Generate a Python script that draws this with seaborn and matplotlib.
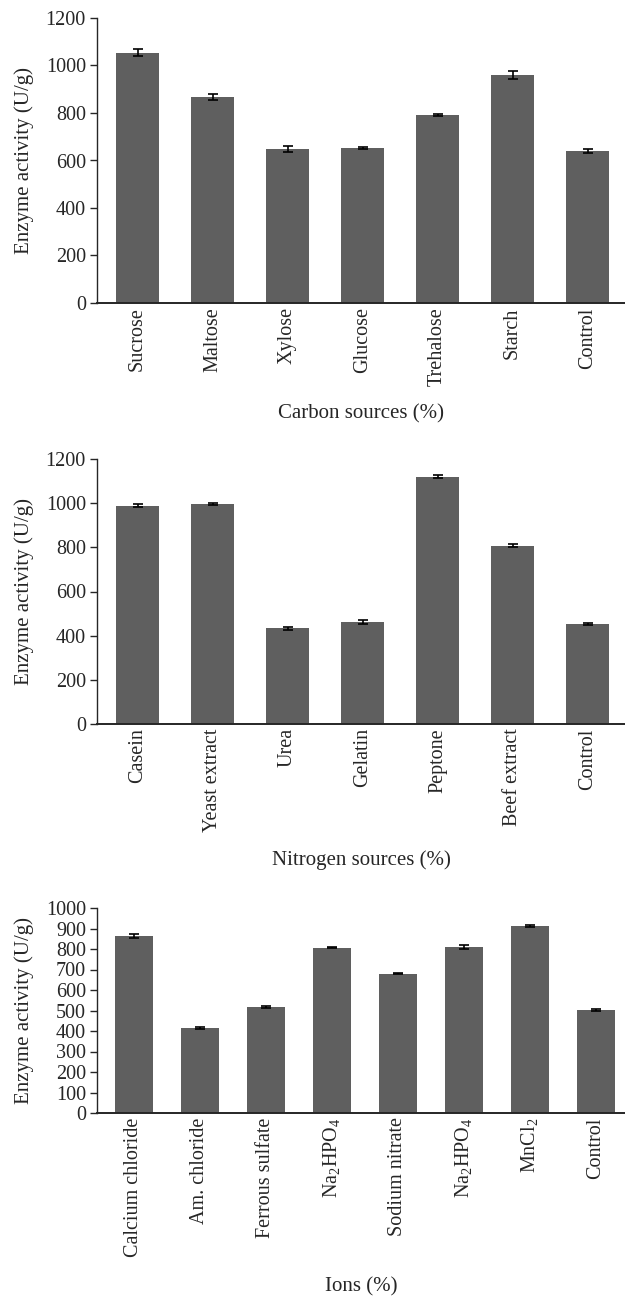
import numpy as np
import pandas as pd
import matplotlib
matplotlib.use('Agg')
import matplotlib.pyplot as plt
import seaborn as sns

# carbon sources
carbon_names = ['Sucrose', 'Maltose', 'Xylose', 'Glucose', 'Trehalose', 'Starch', 'Control']
carbon_vals = [1053, 868, 648, 653, 791, 959, 641]
carbon_err = [15, 12, 11, 5, 5, 17, 8]

# nitrogen sources
nitro_names = ['Casein', 'Yeast extract', 'Urea', 'Gelatin', 'Peptone', 'Beef extract', 'Control']
nitro_vals = [988, 997, 434, 462, 1120, 807, 453]
nitro_err = [7, 4, 7, 7, 7, 7, 4]

# ions
ion_names = ['Calcium chloride', 'Am. chloride', 'Ferrous sulfate', r'Na$_2$HPO$_4$',
             'Sodium nitrate', r'Na$_2$HPO$_4$ ', r'MnCl$_2$', 'Control']
ion_vals = [865, 416, 519, 807, 680, 811, 912, 504]
ion_err = [9, 4, 5, 4, 4, 9, 4, 4]

sns.set_style('ticks')
plt.rcParams['font.family'] = ['Liberation Serif', 'DejaVu Serif']
plt.rcParams['mathtext.fontset'] = 'custom'
plt.rcParams['mathtext.rm'] = 'Liberation Serif'
plt.rcParams['mathtext.it'] = 'Liberation Serif:italic'
plt.rcParams['font.size'] = 15

W, H = 625, 1299
fig = plt.figure(figsize=(W / 100, H / 100), dpi=100)

bar_color = '#5f5f5f'
ax_left = 97 / W
ax_w = (625 - 97) / W


def panel(top_px, bot_px, names, vals, errs, ymax, step, xlab, xlab_y, xlim):
    ax = fig.add_axes([ax_left, 1 - bot_px / H, ax_w, (bot_px - top_px) / H])
    df = pd.DataFrame({'cat': names, 'val': vals})
    sns.barplot(data=df, x='cat', y='val', color=bar_color, width=0.58,
                saturation=1, edgecolor='none', ax=ax)
    ax.errorbar(np.arange(len(vals)), vals, yerr=errs, fmt='none',
                ecolor='black', elinewidth=1.2, capsize=3.5, capthick=1.2)
    ax.set_ylim(0, ymax)
    ax.set_yticks(np.arange(0, ymax + 1, step))
    ax.set_xlim(*xlim)
    ax.set_xlabel('')
    ax.set_ylabel('')
    for s in ['top', 'right']:
        ax.spines[s].set_visible(False)
    ax.spines['left'].set_linewidth(1.0)
    ax.spines['bottom'].set_linewidth(1.4)
    ax.tick_params(axis='y', length=5, width=1, pad=3, labelsize=14.5, direction='out')
    ax.tick_params(axis='x', length=0, pad=3, labelsize=14.5)
    plt.setp(ax.get_xticklabels(), rotation=90, va='top', ha='center')
    fig.text(ax_left + ax_w / 2, 1 - xlab_y / H, xlab, ha='center', va='center', fontsize=15)
    fig.text(24 / W, 1 - (top_px + bot_px) / 2 / H, 'Enzyme activity (U/g)',
             rotation=90, ha='center', va='center', fontsize=15)
    return ax


panel(18, 303, carbon_names, carbon_vals, carbon_err, 1200, 200,
      'Carbon sources (%)', 414, (-0.54, 6.5))
panel(459, 724, nitro_names, nitro_vals, nitro_err, 1200, 200,
      'Nitrogen sources (%)', 860, (-0.54, 6.5))
panel(908, 1113, ion_names, ion_vals, ion_err, 1000, 100,
      'Ions (%)', 1287, (-0.56, 7.44))

fig.savefig('out.png', dpi=100)
